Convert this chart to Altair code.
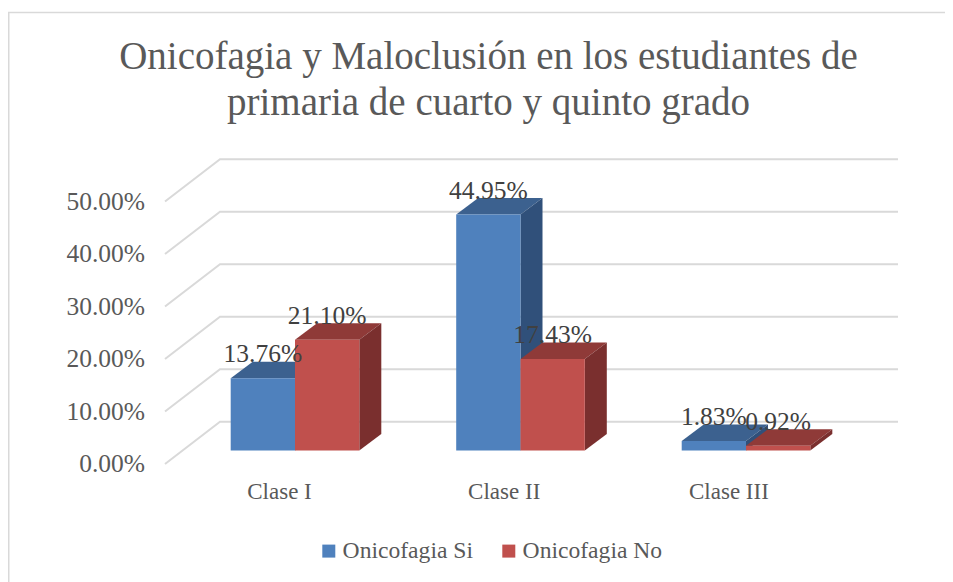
import altair as alt
import pandas as pd

# ---- data ----
categories = ["Clase I", "Clase II", "Clase III"]
series_names = ["Onicofagia Si", "Onicofagia No"]
si_values = [13.76, 44.95, 1.83]
no_values = [21.10, 17.43, 0.92]
tick_values = [0, 10, 20, 30, 40, 50]
title_lines = ["Onicofagia y Maloclusión en los estudiantes de",
               "primaria de cuarto y quinto grado"]

# ---- styling ----
FONT = "Liberation Serif"
W, H, TOP = 937, 442, 132
PX_U = 225.5            # px per category step
PX_V = 5.25             # px per percentage point
X0, Y0 = 287, 310.5     # view position of category 0 centre / bar base
xscale = alt.Scale(domain=[-X0 / PX_U, (W - X0) / PX_U], nice=False, zero=False)
yscale = alt.Scale(domain=[(Y0 - H) / PX_V, Y0 / PX_V], nice=False, zero=False)
BW = 64.3 / PX_U        # bar width
DX, DV = 22 / PX_U, 16.5 / PX_V   # bar depth
WALL_F, WALL_B, WALL_R = -130 / PX_U, -75 / PX_U, 603 / PX_U
WALL_F0, WALL_B0 = -13.5 / PX_V, 28.8 / PX_V

X = lambda f: alt.X(f, type="quantitative", scale=xscale, axis=None)
Y = lambda f: alt.Y(f, type="quantitative", scale=yscale, axis=None)

colors = {"front": ["#4F81BD", "#C0504D"],
          "top": ["#3C618F", "#8F3A38"],
          "side": ["#30507A", "#7A2F2E"]}

# ---- tables ----
fronts, labels = [], []
tops = {0: [], 1: []}
sides = {0: [], 1: []}
for s, vals in enumerate([si_values, no_values]):
    for i, (c, v) in enumerate(zip(categories, vals)):
        left = i + (s - 1) * BW
        right = left + BW
        fronts.append(dict(cat=c, serie=series_names[s], xa=left, xb=right, ya=0, yb=v))
        labels.append(dict(cat=c, x=(left + right) / 2, y=v, label=f"{v:.2f}%"))
        tops[s] += [dict(cat=c, y=v, xa=left, xb=right),
                    dict(cat=c, y=v + DV, xa=left + DX, xb=right + DX)]
        sides[s] += [dict(cat=c, x=right, ya=0, yb=v),
                     dict(cat=c, x=right + DX, ya=DV, yb=v + DV)]

walls = []
for t in tick_values:
    walls += [dict(t=t, o=0, x=WALL_F, y=t + WALL_F0),
              dict(t=t, o=1, x=WALL_B, y=t + WALL_B0),
              dict(t=t, o=2, x=WALL_R, y=t + WALL_B0)]

wall = alt.Chart(pd.DataFrame(walls)).mark_line(
    color="#D9D9D9", strokeWidth=2).encode(
    x=X("x"), y=Y("y"), detail="t:N", order="o:Q")

frame_l = alt.Chart(pd.DataFrame({"a": [0]})).mark_rule(color="#D9D9D9", strokeWidth=1.5).encode(
    x=alt.value(0.75), y=alt.value(4.5 - TOP), y2=alt.value(H))
frame_t = alt.Chart(pd.DataFrame({"a": [0]})).mark_rule(color="#D9D9D9", strokeWidth=1.5).encode(
    y=alt.value(4.5 - TOP), x=alt.value(0), x2=alt.value(W))

layers = [frame_l, frame_t, wall]
for s in (0, 1):
    layers.append(alt.Chart(pd.DataFrame(tops[s])).mark_area(
        orient="horizontal", color=colors["top"][s]).encode(
        y=Y("y"), x=X("xa"), x2="xb:Q", detail="cat:N"))
    layers.append(alt.Chart(pd.DataFrame(sides[s])).mark_area(
        orient="vertical", color=colors["side"][s]).encode(
        x=X("x"), y=Y("ya"), y2="yb:Q", detail="cat:N"))

front = alt.Chart(pd.DataFrame(fronts)).mark_rect().encode(
    x=X("xa"), x2="xb:Q", y=Y("ya"), y2="yb:Q",
    color=alt.Color("serie:N",
                    scale=alt.Scale(domain=series_names, range=colors["front"]),
                    legend=alt.Legend(title=None, orient="none", legendX=309, legendY=399,
                                      direction="horizontal", symbolType="square",
                                      symbolSize=169, symbolStrokeWidth=0,
                                      symbolOpacity=1,
                                      labelFont=FONT, labelFontSize=23.6, labelColor="#595959",
                                      labelOffset=2, columnPadding=24, columns=2)))
layers.append(front)

ytick_df = pd.DataFrame({"x": [WALL_F - 20 / PX_U] * len(tick_values),
                         "y": [t + WALL_F0 for t in tick_values],
                         "label": [f"{t:.2f}%" for t in tick_values]})
layers.append(alt.Chart(ytick_df).mark_text(
    font=FONT, fontSize=25.5, color="#595959", align="right", baseline="middle").encode(
    x=X("x"), y=Y("y"), text="label:N"))

xcat_df = pd.DataFrame({"x": [i * 224.7 / PX_U - 15.5 / PX_U for i in range(3)],
                        "y": [-41.5 / PX_V] * 3, "label": categories})
layers.append(alt.Chart(xcat_df).mark_text(
    font=FONT, fontSize=23, color="#595959", align="center", baseline="middle").encode(
    x=X("x"), y=Y("y"), text="label:N"))

layers.append(alt.Chart(pd.DataFrame(labels)).mark_text(
    font=FONT, fontSize=25.5, color="#404040", align="center", baseline="middle", dy=-24).encode(
    x=X("x"), y=Y("y"), text="label:N"))

chart = alt.layer(*layers).resolve_scale(x="shared", y="shared").properties(
    width=W, height=H,
    padding={"left": 0, "right": 0, "top": TOP, "bottom": 0},
    autosize=alt.AutoSizeParams(type="none"),
    background="white",
    title=alt.TitleParams(text=title_lines, font=FONT, fontSize=39, fontWeight="normal",
                          color="#595959", lineHeight=46, anchor="middle", frame="group",
                          dx=12, offset=-111),
).configure_view(stroke=None)

chart.save("out.html", embed_options={"renderer": "svg", "actions": False})
